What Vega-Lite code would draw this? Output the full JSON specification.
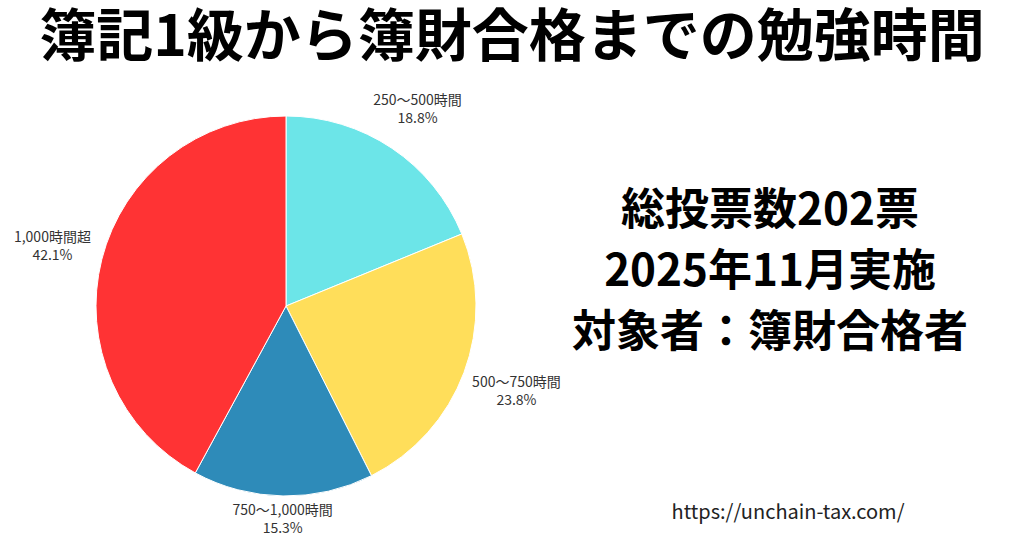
{
  "$schema": "https://vega.github.io/schema/vega-lite/v6.json",
  "padding": {"left": 0, "right": 0, "top": 10, "bottom": 0},
  "spacing": 0,
  "bounds": "flush",
  "background": "white",
  "config": {"view": {"stroke": null}, "font": "Noto Sans CJK JP"},
  "title": {
    "text": "簿記1級から簿財合格までの勉強時間",
    "fontSize": 57,
    "fontWeight": "bold",
    "font": "Noto Sans CJK JP",
    "color": "#000000",
    "anchor": "middle",
    "offset": 13
  },
  "hconcat": [
    {
      "width": 572,
      "height": 450,
      "data": {
        "values": [
          {"label": "250～500時間", "votes": 38, "pct": "18.8%", "order": 1},
          {"label": "500～750時間", "votes": 48, "pct": "23.8%", "order": 2},
          {"label": "750～1,000時間", "votes": 31, "pct": "15.3%", "order": 3},
          {"label": "1,000時間超", "votes": 85, "pct": "42.1%", "order": 4}
        ]
      },
      "encoding": {
        "theta": {"field": "votes", "type": "quantitative", "stack": true},
        "order": {"field": "order", "type": "quantitative"}
      },
      "layer": [
        {
          "mark": {"type": "arc", "outerRadius": 190, "stroke": "#ffffff", "strokeWidth": 1},
          "encoding": {
            "color": {
              "field": "label",
              "type": "nominal",
              "scale": {
                "domain": ["250～500時間", "500～750時間", "750～1,000時間", "1,000時間超"],
                "range": ["#6CE5E8", "#FFDE5A", "#2E8BB9", "#FF3334"]
              },
              "legend": null
            }
          }
        },
        {
          "mark": {"type": "text", "fontSize": 14, "color": "#333333", "dy": -9, "font": "Noto Sans CJK JP"},
          "encoding": {
            "text": {"field": "label"},
            "radius": {"value": {"expr": "datum.order === 3 ? 214 : (datum.order === 2 ? 246 : (datum.order === 4 ? 241 : 236))"}}
          }
        },
        {
          "mark": {"type": "text", "fontSize": 14, "color": "#333333", "dy": 9, "font": "Noto Sans CJK JP"},
          "encoding": {
            "text": {"field": "pct"},
            "radius": {"value": {"expr": "datum.order === 3 ? 214 : (datum.order === 2 ? 246 : (datum.order === 4 ? 241 : 236))"}}
          }
        }
      ]
    },
    {
      "width": 452,
      "height": 378,
      "title": {
        "text": "https://unchain-tax.com/",
        "orient": "bottom",
        "anchor": "middle",
        "fontSize": 20,
        "fontWeight": "normal",
        "color": "#222222",
        "font": "Noto Sans CJK JP",
        "offset": 44,
        "dx": -10
      },
      "data": {
        "values": [
          {"line": "総投票数202票\n2025年11月実施\n対象者：簿財合格者"}
        ]
      },
      "mark": {"type": "text", "fontSize": 44, "fontWeight": "bold", "color": "#000000", "font": "Noto Sans CJK JP", "lineBreak": "\n", "lineHeight": 61, "baseline": "middle", "align": "center", "dx": -28, "dy": -58},
      "encoding": {
        "text": {"field": "line"}
      }
    }
  ]
}
